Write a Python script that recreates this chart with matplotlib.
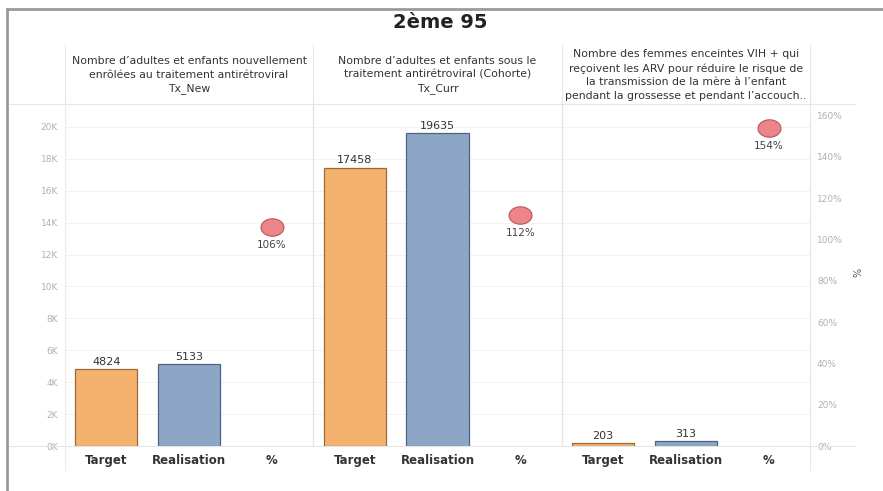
import matplotlib
matplotlib.use("Agg")
import matplotlib.pyplot as plt
from matplotlib.lines import Line2D
from matplotlib.path import Path
import numpy as np

# ---- data ----
panel_titles = [
    "Nombre d\u2019adultes et enfants nouvellement\nenrôlées au traitement antirétroviral\nTx_New",
    "Nombre d\u2019adultes et enfants sous le\ntraitement antirétroviral (Cohorte)\nTx_Curr",
    "Nombre des femmes enceintes VIH + qui\nreçoivent les ARV pour réduire le risque de\nla transmission de la mère à l\u2019enfant\npendant la grossesse et pendant l\u2019accouch..",
]
categories = ["Target", "Realisation", "%"]
target = [4824, 17458, 203]
realisation = [5133, 19635, 313]
percent = [106, 112, 154]
left_ticks = [0, 2000, 4000, 6000, 8000, 10000, 12000, 14000, 16000, 18000, 20000]
right_ticks = [0, 20, 40, 60, 80, 100, 120, 140, 160]

W, H = 883, 491
fig = plt.figure(figsize=(W / 100, H / 100), dpi=100)
fig.patch.set_facecolor("white")

def fx(px):
    return px / W

def fy(py):
    return 1 - py / H

ax_l, ax_r, ax_t, ax_b = 65, 810, 104, 446
ax = fig.add_axes([fx(ax_l), fy(ax_b), fx(ax_r - ax_l), fy(ax_t) - fy(ax_b)])
ax2 = ax.twinx()

orange, orange_edge = "#F5B26E", "#9a6a3a"
blue, blue_edge = "#8DA6C6", "#4d6382"
red_fill, red_edge = "#EB8589", "#b8545a"

# slightly flattened circle marker
t = np.linspace(0, 2 * np.pi, 60)
oval = Path(np.column_stack([np.cos(t), 0.76 * np.sin(t)]), closed=True)

bw = 0.75
for i in range(3):
    base = 3 * i
    ax.bar(base, target[i], width=bw, color=orange, edgecolor=orange_edge, linewidth=0.9, zorder=3)
    ax.bar(base + 1, realisation[i], width=bw, color=blue, edgecolor=blue_edge, linewidth=0.9, zorder=3)
    for xpos, val in ((base, target[i]), (base + 1, realisation[i])):
        ax.annotate(f"{val}", (xpos, val), xytext=(0, 1.5), textcoords="offset points",
                    ha="center", va="bottom", fontsize=8, color="#333333", zorder=4)
    ax2.plot(base + 2, percent[i], marker=oval, ms=16.5, markerfacecolor=red_fill,
             markeredgecolor=red_edge, markeredgewidth=0.8, zorder=5)
    ax2.annotate(f"{percent[i]}%", (base + 2, percent[i]), xytext=(0, -9.5),
                 textcoords="offset points", ha="center", va="top",
                 fontsize=7.5, color="#444444")

ax.set_xlim(-0.5, 8.5)
ax.set_ylim(0, 21440)
ax2.set_ylim(0, 165.6)

ax.set_yticks(left_ticks)
ax.set_yticklabels([f"{v // 1000}K" for v in left_ticks])
ax2.set_yticks(right_ticks)
ax2.set_yticklabels([f"{v}%" for v in right_ticks])
ax.set_xticks([])

for a in (ax, ax2):
    a.tick_params(axis="y", length=0, labelsize=6.5, labelcolor="#b0b0b0")
    for s in a.spines.values():
        s.set_visible(False)
ax.tick_params(axis="y", pad=5)
ax2.tick_params(axis="y", pad=5)
ax.set_facecolor("none")

for v in left_ticks:
    ax.axhline(v, color="#f2f2f2", lw=0.7, zorder=0)
for xv in (2.5, 5.5):
    ax.axvline(xv, color="#dfe6df", lw=0.9, zorder=1)

# category labels below each panel
for i in range(3):
    for j, c in enumerate(categories):
        ax.text(3 * i + j, -0.022, c, transform=ax.get_xaxis_transform(),
                ha="center", va="top", fontsize=8.5, fontweight="bold", color="#333333")

# rotated axis label on the right
fig.text(fx(859), fy(272), "%", rotation=90, ha="center", va="center",
         fontsize=7, color="#555555")

# frame, header lines and panel separators
def hline(y, x0, x1, color, lw):
    fig.add_artist(Line2D([fx(x0), fx(x1)], [fy(y), fy(y)], color=color, lw=lw))

def vline(x, y0, y1, color, lw):
    fig.add_artist(Line2D([fx(x), fx(x)], [fy(y0), fy(y1)], color=color, lw=lw))

hline(9, 7, W, "#9a9a9a", 2.0)
vline(7, 9, H, "#9a9a9a", 2.0)
hline(104, 9, 855, "#e6e6e6", 0.8)
hline(446, 9, 855, "#e6e6e6", 0.8)
for xv in (65, 313, 562):
    vline(xv, 45, 104, "#e6e6e6", 0.8)
vline(65, 104, 470, "#ececec", 0.8)
vline(810, 45, 470, "#e6e6e6", 0.8)

# title and panel headers
fig.text(fx(440), fy(22), "2ème 95", ha="center", va="center",
         fontsize=14, fontweight="bold", color="#222222")
edges = [65, 313, 562, 810]
for i, ttl in enumerate(panel_titles):
    xc = (edges[i] + edges[i + 1]) / 2
    fig.text(fx(xc), fy(75), ttl, ha="center", va="center", fontsize=7.8,
             color="#333333", linespacing=1.45)

fig.savefig("out.png", dpi=100, facecolor="white")
